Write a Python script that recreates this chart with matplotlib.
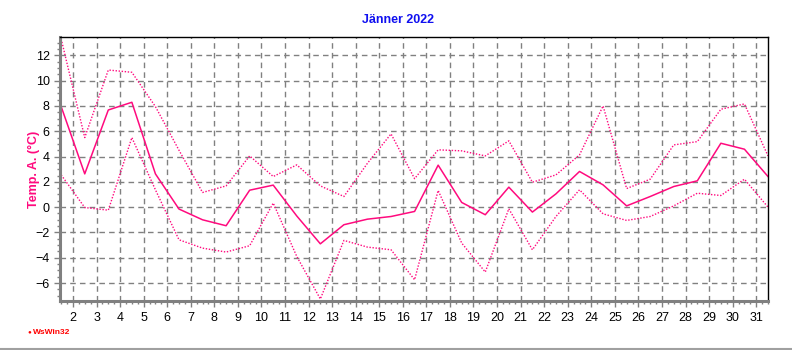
import numpy as np
import matplotlib
matplotlib.use("Agg")
import matplotlib.pyplot as plt
from matplotlib.ticker import MultipleLocator

# daily values, January 2022
days = list(range(1, 32))
temp_mean = [7.95, 2.63, 7.68, 8.29, 2.63, -0.15, -1.0, -1.47, 1.34, 1.74,
             -0.7, -2.9, -1.39, -0.95, -0.74, -0.34, 3.32, 0.37, -0.6, 1.58,
             -0.39, 1.05, 2.82, 1.76, 0.1, 0.84, 1.63, 2.08, 5.05, 4.58, 2.42]
temp_max = [13.3, 5.5, 10.84, 10.66, 7.95, 4.5, 1.16, 1.68, 4.05, 2.42,
            3.34, 1.68, 0.84, 3.47, 5.79, 2.25, 4.53, 4.45, 4.05, 5.24,
            1.97, 2.55, 4.13, 8.0, 1.47, 2.21, 4.92, 5.18, 7.74, 8.16, 4.05]
temp_min = [2.55, -0.03, -0.24, 5.5, 1.37, -2.58, -3.24, -3.55, -3.05, 0.32,
            -3.9, -7.26, -2.63, -3.16, -3.37, -5.74, 1.32, -2.84, -5.13, -0.13,
            -3.37, -0.74, 1.37, -0.53, -1.05, -0.74, 0.1, 1.1, 0.92, 2.21, 0.0]
xticks = list(range(2, 32))
yticks = list(range(-6, 13, 2))

plt.rcParams['font.family'] = ['Liberation Sans', 'DejaVu Sans']
pink = '#FF0A7E'

fig = plt.figure(figsize=(7.92, 3.5), dpi=100)
ax = fig.add_axes([60/792, 49/350, 708/792, 264/350])

x = np.array(days) + 0.5
ax.plot(x, temp_max, color=pink, lw=1.0, ls=(0, (1, 1.2)))
ax.plot(x, temp_min, color=pink, lw=1.0, ls=(0, (1, 1.2)))
ax.plot(x, temp_mean, color=pink, lw=1.1)

ax.set_xlim(1.45, 31.5)
ax.set_ylim(-7.42, 13.45)
ax.set_xticks(xticks)
ax.set_yticks(yticks)
ax.xaxis.set_minor_locator(MultipleLocator(0.25))
ax.yaxis.set_minor_locator(MultipleLocator(0.5))
ax.tick_params(axis='both', which='major', length=4, width=1, color='#808080',
               labelsize=9, direction='out')
ax.tick_params(axis='both', which='minor', length=2.5, width=1, color='#808080',
               direction='out')
ax.tick_params(axis='x', pad=4)

ax.grid(True, which='major', color='#808080', ls=(0, (4, 3)), lw=1)

for s in ['left', 'bottom']:
    ax.spines[s].set_color('#808080')
    ax.spines[s].set_linewidth(2.2)
for s in ['top', 'right']:
    ax.spines[s].set_color('black')
    ax.spines[s].set_linewidth(1)

ax.set_ylabel('Temp. A. (°C)', color=pink, fontsize=9, fontweight='bold')
ax.yaxis.set_label_coords(-0.028, 0.5)
fig.text(398/792, 1 - 20/350, 'Jänner 2022', color='#1010F0', fontsize=9,
         fontweight='bold', ha='center', va='center')

# logo text bottom left
fig.text(27/792, 1 - 332/350, '●', color='#FF0000', fontsize=4.5, ha='left', va='center')
fig.text(33/792, 1 - 332/350, 'WsWin32', color='#FF0000', fontsize=6,
         fontweight='bold', ha='left', va='center')

# frame line at bottom of the picture
fig.add_artist(plt.Line2D([0, 1], [1.5/350, 1.5/350], color='#A0A0A0', lw=1.5))

fig.savefig('out.png', dpi=100)
